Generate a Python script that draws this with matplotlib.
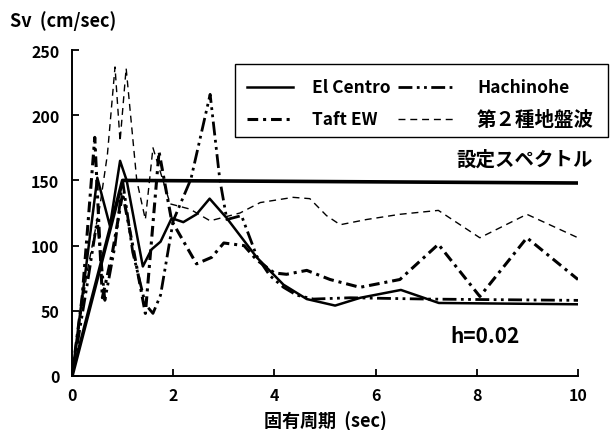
import matplotlib
matplotlib.use("Agg")
import matplotlib.pyplot as plt
from matplotlib.lines import Line2D
from matplotlib.patches import Rectangle

plt.rcParams['font.family'] = ['Noto Sans CJK JP', 'DejaVu Sans']

# ---- data ----
elc_x = [0, 0.25, 0.5, 0.75, 0.95, 1.08, 1.4, 1.57, 1.75, 1.97, 2.2, 2.46, 2.72, 3.06, 3.65, 4.18, 4.64, 5.2, 5.7, 6.5, 7.25, 10]
elc_y = [0, 75, 152, 115, 165, 150, 84, 97, 103, 121, 118, 124, 136, 121, 91, 70, 59, 54, 60, 66, 56, 55]

hac_x = [0, 0.3, 0.5, 0.65, 0.85, 1.0, 1.2, 1.45, 1.6, 1.75, 2.0, 2.35, 2.73, 2.92, 3.06, 3.35, 3.65, 3.91, 4.18, 4.44, 4.77, 5.5, 7.0, 10]
hac_y = [0, 70, 120, 58, 100, 150, 95, 55, 48, 62, 119, 151, 216, 151, 120, 123, 92, 77, 68, 62, 59, 60, 59, 58]

taft_x = [0, 0.2, 0.45, 0.6, 0.8, 1.0, 1.2, 1.45, 1.72, 1.97, 2.46, 2.76, 3.0, 3.4, 3.65, 4.0, 4.24, 4.64, 5.1, 5.69, 6.48, 7.24, 8.06, 8.99, 10]
taft_y = [0, 60, 183, 60, 95, 140, 100, 48, 172, 119, 86, 91, 102, 100, 89, 79, 78, 81, 74, 68, 74, 101, 61, 106, 74]

sec_x = [0, 0.3, 0.55, 0.7, 0.85, 0.95, 1.07, 1.28, 1.45, 1.6, 1.94, 2.33, 2.73, 3.32, 3.72, 4.37, 4.7, 5.03, 5.3, 5.82, 6.48, 7.24, 8.06, 8.99, 10]
sec_y = [0, 80, 130, 170, 237, 180, 236, 150, 120, 175, 132, 128, 119, 125, 133, 137, 136, 123, 116, 120, 124, 127, 106, 124, 106]

spec_x = [0, 1.0, 10]
spec_y = [0, 150, 148]

x_ticks = [0, 2, 4, 6, 8, 10]
y_ticks = [0, 50, 100, 150, 200, 250]

labels = ['El Centro', 'Hachinohe', 'Taft EW', '第２種地盤波']

# ---- styles ----
st_elc = dict(color='black', lw=1.8, ls='-')
st_hac = dict(color='black', lw=2.0, ls=(0, (5, 1.6, 1, 1.6, 1, 1.6)))
st_taft = dict(color='black', lw=2.2, ls=(0, (3.5, 1.6, 1, 1.6)))
st_sec = dict(color='black', lw=1.0, ls=(0, (5, 3.5)))

W, H = 613, 431
fig = plt.figure(figsize=(W / 100, H / 100), dpi=100)
fig.patch.set_facecolor('white')
ax = fig.add_axes([72 / W, (H - 377) / H, 506 / W, 326 / H])

ax.plot(spec_x, spec_y, color='black', lw=2.6)
ax.plot(sec_x, sec_y, **st_sec)
ax.plot(taft_x, taft_y, **st_taft)
ax.plot(hac_x, hac_y, **st_hac)
ax.plot(elc_x, elc_y, **st_elc)

ax.set_xlim(0, 10)
ax.set_ylim(0, 250)
ax.set_xticks(x_ticks)
ax.set_yticks(y_ticks)
ax.set_xticklabels([str(v) for v in x_ticks], fontsize=11.5, fontweight='bold')
ax.set_yticklabels([str(v) for v in y_ticks], fontsize=11.5, fontweight='bold')
ax.tick_params(direction='in', length=5, width=1.3, pad=9, colors='black')
ax.tick_params(axis='x', pad=8)
for s in ['top', 'right']:
    ax.spines[s].set_visible(False)
for s in ['left', 'bottom']:
    ax.spines[s].set_linewidth(1.4)

ax.set_xlabel('固有周期  (sec)', fontsize=13, fontweight='bold', labelpad=5)
fig.text(10 / W, 1 - 21 / H, 'Sv  (cm/sec)', fontsize=13, fontweight='bold', va='center', ha='left')

ax.text(7.6, 166, '設定スペクトル', fontsize=14, fontweight='bold', va='center', ha='left')
ax.text(7.47, 31, 'h=0.02', fontsize=15, fontweight='bold', va='center', ha='left')

# ---- legend (manual, figure coordinates) ----
def fx(px):
    return px / W

def fy(py):
    return 1 - py / H

fig.add_artist(Rectangle((fx(235), fy(138)), (608 - 235) / W, (138 - 65) / H,
                         transform=fig.transFigure, fill=False, edgecolor='black', lw=1.0))
rows = [88, 120]
entries = [(0, 0, st_elc, labels[0]), (1, 0, st_hac, labels[1]),
           (0, 1, st_taft, labels[2]), (1, 1, st_sec, labels[3])]
for col, row, st, lab in entries:
    hx0, hx1, tx = (247, 293, 312) if col == 0 else (398, 453, 477)
    y = fy(rows[row])
    fig.add_artist(Line2D([fx(hx0), fx(hx1)], [y, y], transform=fig.transFigure, **st))
    fs = 14 if lab == labels[3] else 12.5
    fig.text(fx(tx), y, lab, fontsize=fs, fontweight='bold', va='center', ha='left')

fig.savefig('out.png', dpi=100, facecolor='white')
